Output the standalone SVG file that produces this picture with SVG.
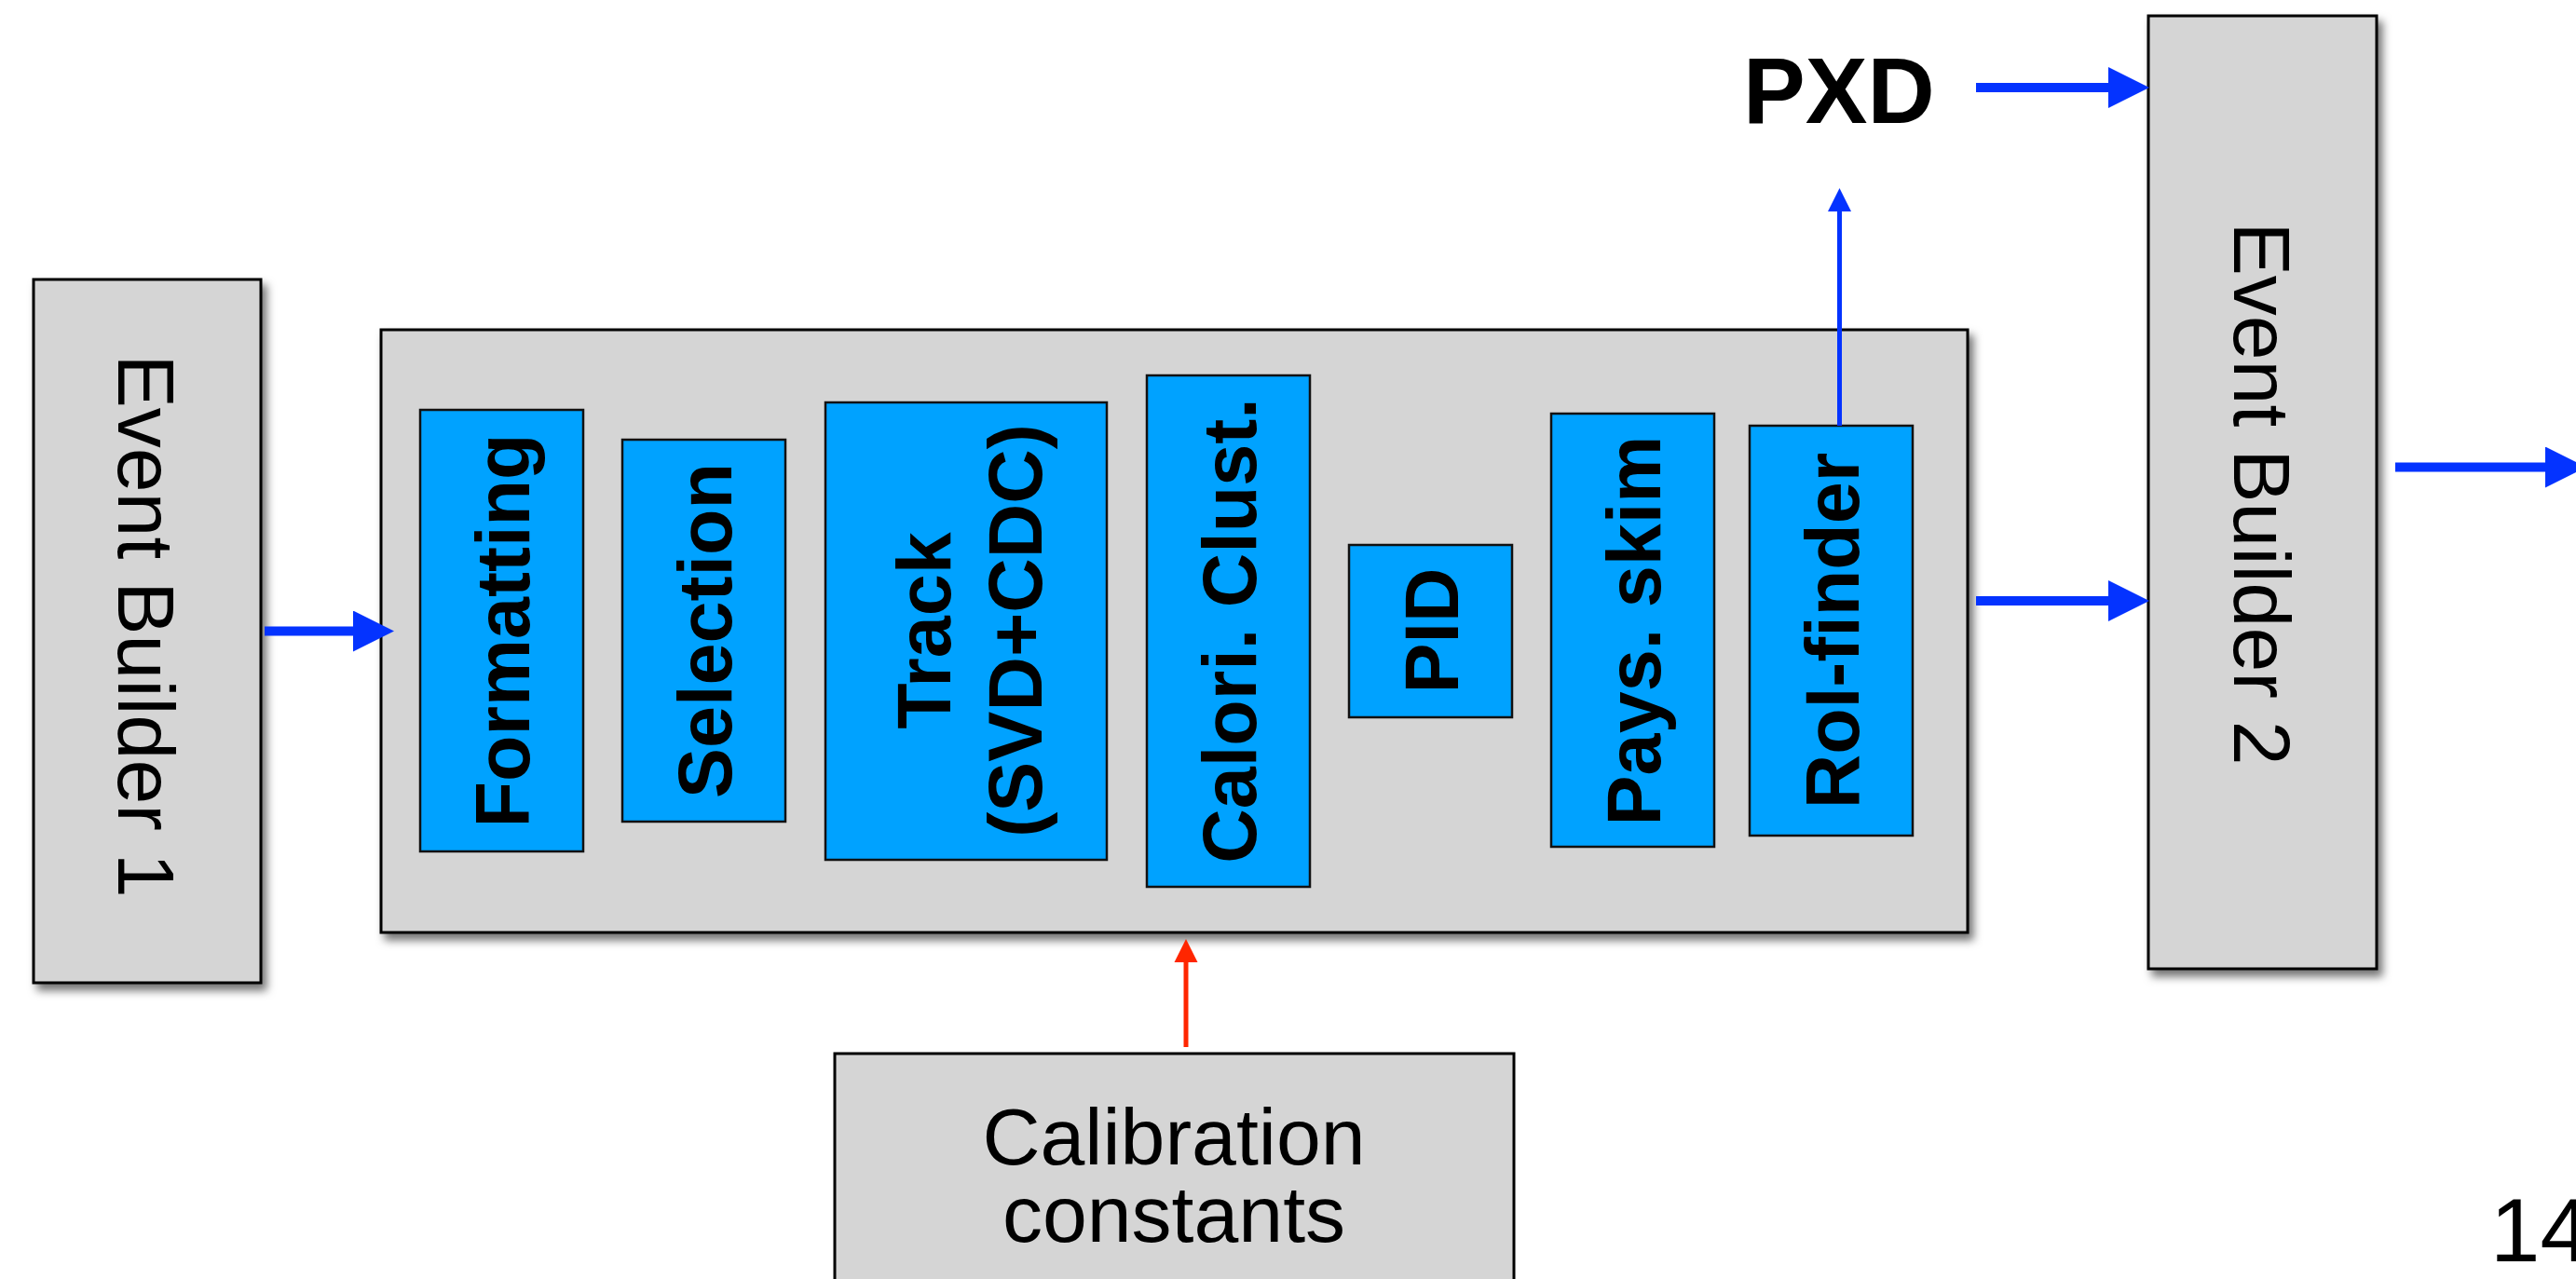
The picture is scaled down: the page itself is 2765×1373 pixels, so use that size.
<svg xmlns="http://www.w3.org/2000/svg" width="2765" height="1373" viewBox="0 0 2765 1373">
<defs>
<style>
.gray{fill:#D5D5D5;stroke:#000;stroke-width:3}
.blue{fill:#00A2FF;stroke:#111;stroke-width:2.5}
.lbl{font-family:"Liberation Sans",Arial,Helvetica,sans-serif;font-size:86px;fill:#000;text-anchor:middle}
.bl{font-family:"Liberation Sans",Arial,Helvetica,sans-serif;font-size:81px;font-weight:bold;fill:#000;text-anchor:middle}
.thick{stroke:#0433FF;stroke-width:10;fill:none}
.thin{stroke:#0433FF;stroke-width:5;fill:none}
.red{stroke:#FF2600;stroke-width:5;fill:none}
</style>
<filter id="sh" x="-10%" y="-10%" width="130%" height="130%">
<feDropShadow dx="5" dy="7" stdDeviation="5" flood-color="#000" flood-opacity="0.55"/>
</filter>
<marker id="bigB" markerUnits="userSpaceOnUse" markerWidth="44" markerHeight="44" viewBox="0 -22 44 44" refX="0" refY="0" orient="auto">
<path d="M0,-22 L44,0 L0,22 z" fill="#0433FF"/>
</marker>
<marker id="smB" markerUnits="userSpaceOnUse" markerWidth="25" markerHeight="26" viewBox="0 -13 25 26" refX="0" refY="0" orient="auto">
<path d="M0,-12.5 L25,0 L0,12.5 z" fill="#0433FF"/>
</marker>
<marker id="smR" markerUnits="userSpaceOnUse" markerWidth="25" markerHeight="26" viewBox="0 -13 25 26" refX="0" refY="0" orient="auto">
<path d="M0,-12.5 L25,0 L0,12.5 z" fill="#FF2600"/>
</marker>
</defs>
<rect width="2765" height="1373" fill="#fff"/>

<g id="eb1">
<rect class="gray" x="36" y="300" width="244" height="755" filter="url(#sh)"/>
<text class="lbl" transform="translate(157.5,672) rotate(90)" x="0" y="31">Event Builder 1</text>
</g>

<g id="main">
<rect class="gray" x="409" y="354" width="1703" height="647" filter="url(#sh)"/>
</g>

<g id="formatting">
<rect class="blue" x="451" y="440" width="175" height="474"/>
<text class="bl" transform="translate(538.5,677) rotate(-90)" x="0" y="29">Formatting</text>
</g>
<g id="selection">
<rect class="blue" x="668" y="472" width="175" height="410"/>
<text class="bl" transform="translate(755.5,677) rotate(-90)" x="0" y="29">Selection</text>
</g>
<g id="track">
<rect class="blue" x="886" y="432" width="302" height="491"/>
<text class="bl" transform="translate(1037,677) rotate(-90)"><tspan x="0" y="-17">Track</tspan><tspan x="0" y="81">(SVD+CDC)</tspan></text>
</g>
<g id="calori">
<rect class="blue" x="1231" y="403" width="175" height="549"/>
<text class="bl" transform="translate(1318.5,677) rotate(-90)" x="0" y="29">Calori. Clust.</text>
</g>
<g id="pid">
<rect class="blue" x="1448" y="585" width="175" height="185"/>
<text class="bl" transform="translate(1535.5,677) rotate(-90)" x="0" y="29">PID</text>
</g>
<g id="pays">
<rect class="blue" x="1665" y="444" width="175" height="465"/>
<text class="bl" transform="translate(1752.5,677) rotate(-90)" x="0" y="29">Pays. skim</text>
</g>
<g id="roi">
<rect class="blue" x="1878" y="457" width="175" height="440"/>
<text class="bl" transform="translate(1965.5,677) rotate(-90)" x="0" y="29">RoI-finder</text>
</g>

<g id="eb2">
<rect class="gray" x="2306" y="17" width="245" height="1023" filter="url(#sh)"/>
<text class="lbl" transform="translate(2428.5,530) rotate(90)" x="0" y="31">Event Builder 2</text>
</g>

<g id="pxd">
<text x="1871" y="132" style="font-family:'Liberation Sans',Arial,Helvetica,sans-serif;font-size:100px;font-weight:bold;fill:#000">PXD</text>
</g>

<g id="calib">
<rect class="gray" x="896" y="1131" width="729" height="270"/>
<text class="lbl"><tspan x="1260" y="1250">Calibration</tspan><tspan x="1260" y="1333">constants</tspan></text>
</g>

<g id="pagenum">
<text x="2673" y="1354" style="font-family:'Liberation Sans',Arial,Helvetica,sans-serif;font-size:96px;fill:#000">14</text>
</g>

<g id="connectors">
<path class="thick" d="M284,677.5 H379" marker-end="url(#bigB)"/>
<path class="thick" d="M2121,645 H2263" marker-end="url(#bigB)"/>
<path class="thick" d="M2121,94 H2263" marker-end="url(#bigB)"/>
<path class="thick" d="M2571,501.5 H2732" marker-end="url(#bigB)"/>
<path class="thin" d="M1974.5,457 V227" marker-end="url(#smB)"/>
<path class="red" d="M1273,1124 V1033" marker-end="url(#smR)"/>
</g>
</svg>
